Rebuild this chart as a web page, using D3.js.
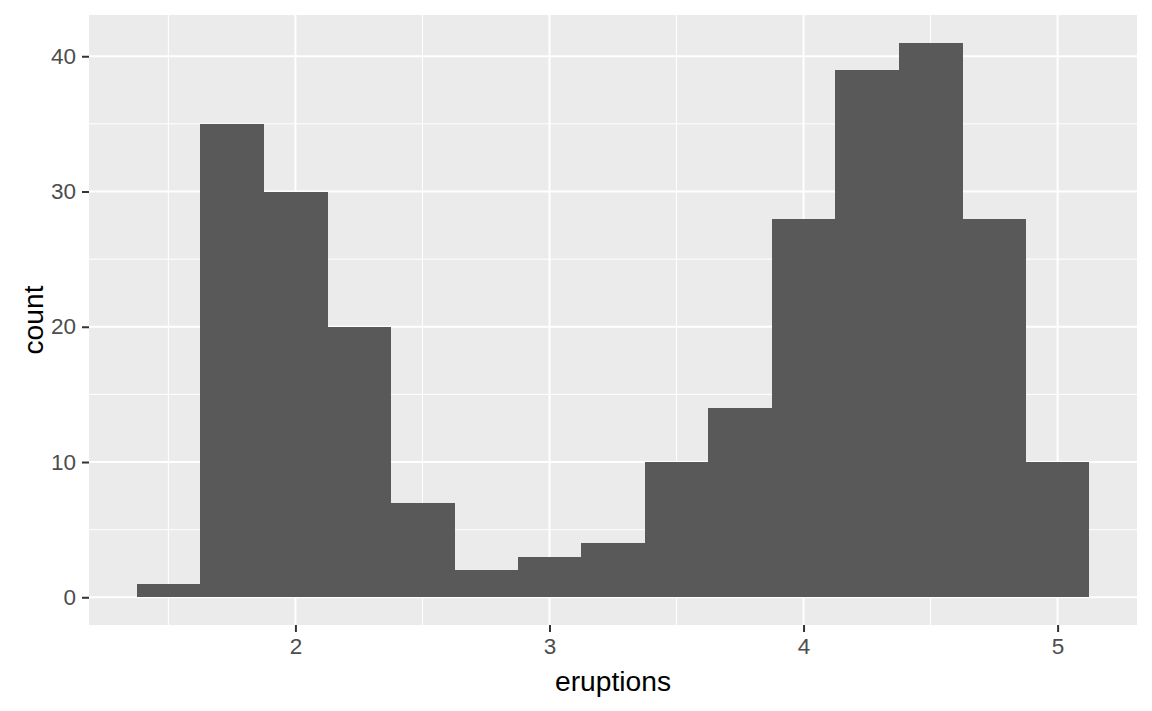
<!DOCTYPE html>
<html>
<head>
<meta charset="utf-8">
<script src="https://cdn.jsdelivr.net/npm/d3@7"></script>
<style>
  body { margin: 0; background: #fff; }
  svg { display: block; font-family: "Liberation Sans", Arial, sans-serif; }
</style>
</head>
<body>
<svg id="chart" width="1152" height="711"></svg>
<script>
// histogram of eruptions, binwidth 0.25
const binStarts = [1.375, 1.625, 1.875, 2.125, 2.375, 2.625, 2.875, 3.125, 3.375, 3.625, 3.875, 4.125, 4.375, 4.625, 4.875];
const counts = [1, 35, 30, 20, 7, 2, 3, 4, 10, 14, 28, 39, 41, 28, 10];
const binWidth = 0.25;
const xTicks = [2, 3, 4, 5];
const xMinor = [1.5, 2.5, 3.5, 4.5];
const yTicks = [0, 10, 20, 30, 40];
const yMinor = [5, 15, 25, 35];

const svg = d3.select("#chart");
const panel = { left: 89, top: 15, right: 1137, bottom: 625 };

const x = d3.scaleLinear()
    .domain([1.1875, 5.3125])
    .range([panel.left, panel.right]);
const y = d3.scaleLinear()
    .domain([-2.05, 43.05])
    .range([panel.bottom, panel.top]);

svg.append("rect")
    .attr("x", panel.left)
    .attr("y", panel.top)
    .attr("width", panel.right - panel.left)
    .attr("height", panel.bottom - panel.top)
    .attr("fill", "#ebebeb");

// grid
const grid = svg.append("g");
grid.selectAll(".xminor").data(xMinor).enter().append("line")
    .attr("x1", d => x(d)).attr("x2", d => x(d))
    .attr("y1", panel.top).attr("y2", panel.bottom)
    .attr("stroke", "#fff").attr("stroke-width", 1);
grid.selectAll(".yminor").data(yMinor).enter().append("line")
    .attr("y1", d => y(d)).attr("y2", d => y(d))
    .attr("x1", panel.left).attr("x2", panel.right)
    .attr("stroke", "#fff").attr("stroke-width", 1);
grid.selectAll(".xmajor").data(xTicks).enter().append("line")
    .attr("x1", d => x(d)).attr("x2", d => x(d))
    .attr("y1", panel.top).attr("y2", panel.bottom)
    .attr("stroke", "#fff").attr("stroke-width", 2);
grid.selectAll(".ymajor").data(yTicks).enter().append("line")
    .attr("y1", d => y(d)).attr("y2", d => y(d))
    .attr("x1", panel.left).attr("x2", panel.right)
    .attr("stroke", "#fff").attr("stroke-width", 2);

// bars
svg.append("g")
    .attr("shape-rendering", "crispEdges")
    .selectAll("rect")
    .data(binStarts)
    .enter()
    .append("rect")
    .attr("x", d => x(d))
    .attr("width", (d, i) => x(d + binWidth) - x(d) + (i < binStarts.length - 1 ? 0.5 : 0))
    .attr("y", (d, i) => y(counts[i]))
    .attr("height", (d, i) => y(0) - y(counts[i]))
    .attr("fill", "#595959");

// axes
const xAxis = svg.append("g")
    .attr("transform", `translate(0,${panel.bottom})`)
    .call(d3.axisBottom(x).tickValues(xTicks).tickSize(7).tickPadding(6).tickFormat(d3.format("d")));
const yAxis = svg.append("g")
    .attr("transform", `translate(${panel.left},0)`)
    .call(d3.axisLeft(y).tickValues(yTicks).tickSize(7).tickPadding(6).tickFormat(d3.format("d")));

[xAxis, yAxis].forEach(a => {
    a.select(".domain").remove();
    a.selectAll(".tick line").attr("stroke", "#333").attr("stroke-width", 2);
    a.selectAll(".tick text")
        .attr("fill", "#4d4d4d")
        .style("font-size", "22.5px")
        .style("font-family", "'Liberation Sans', Arial, sans-serif");
});

svg.append("text")
    .attr("x", (panel.left + panel.right) / 2)
    .attr("y", 691)
    .attr("text-anchor", "middle")
    .style("font-size", "28.2px")
    .attr("fill", "#000")
    .text("eruptions");

svg.append("text")
    .attr("transform", `translate(43,${(panel.top + panel.bottom) / 2}) rotate(-90)`)
    .attr("text-anchor", "middle")
    .style("font-size", "28.2px")
    .attr("fill", "#000")
    .text("count");
</script>
</body>
</html>
